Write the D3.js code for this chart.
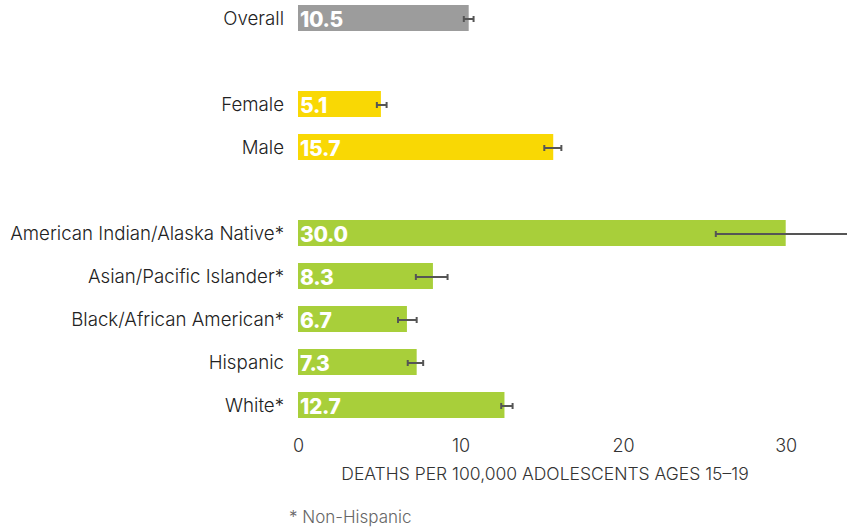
<!DOCTYPE html>
<html><head><meta charset="utf-8">
<script src="https://cdn.jsdelivr.net/npm/d3@7"></script>
<style>
body{margin:0;background:#fff;}
svg{display:block;font-family:Inter,"Noto Sans",sans-serif;}
</style></head>
<body><svg id="c" width="847" height="529"></svg>
<script>
// rows (empty strings are spacer rows between groups)
const categories = ["Overall","", "Female","Male","", "American Indian/Alaska Native*","Asian/Pacific Islander*","Black/African American*","Hispanic","White*"];
const groups = ["overall","", "gender","gender","", "race","race","race","race","race"];
const values = [10.5, null, 5.1, 15.7, null, 30.0, 8.3, 6.7, 7.3, 12.7];
const lower  = [10.2, null, 4.85, 15.15, null, 25.7, 7.25, 6.15, 6.75, 12.5];
const upper  = [10.8, null, 5.45, 16.2, null, 34.8, 9.2, 7.3, 7.7, 13.2];
const xTicks = [0, 10, 20, 30];
const xTitle = "DEATHS PER 100,000 ADOLESCENTS AGES 15–19";
const footnote = "* Non-Hispanic";
const colors = {overall:"#9c9c9c", gender:"#f9d804", race:"#a8cf3a"};

const svg = d3.select("#c");
const x = d3.scaleLinear().domain([0,30]).range([298, 785.7]);
const step = 43, pIn = 17/43, pOut = 0.2;
const yTop = 5 - pOut*step;
const y = d3.scaleBand().domain(d3.range(categories.length))
  .range([yTop, yTop + step*(categories.length - pIn + 2*pOut)])
  .paddingInner(pIn).paddingOuter(pOut);

const rows = categories.map((c,i)=>({c,i,g:groups[i],v:values[i],lo:lower[i],hi:upper[i]})).filter(d=>d.c);

// bars
svg.append("g").selectAll("rect").data(rows).join("rect")
  .attr("x", x(0)).attr("y", d=>y(d.i))
  .attr("width", d=>x(d.v)-x(0)).attr("height", y.bandwidth())
  .attr("fill", d=>colors[d.g]);

// value labels
svg.append("g").selectAll("text").data(rows).join("text")
  .attr("x", x(0)+2).attr("y", d=>y(d.i)+y.bandwidth()/2+9)
  .attr("fill","#fff").attr("font-size",21).attr("font-weight",800)
  .attr("letter-spacing","-0.3")
  .text(d=>d.v.toFixed(1));

// category labels
svg.append("g").selectAll("text").data(rows).join("text")
  .attr("x", 284).attr("y", d=>y(d.i)+y.bandwidth()/2+7)
  .attr("text-anchor","end").attr("fill","#222").attr("font-size",18.7).attr("font-weight",350)
  .text(d=>d.c);

// error bars
const eb = svg.append("g").attr("stroke","#555").attr("stroke-width",2);
rows.forEach(d=>{
  const cy = y(d.i)+y.bandwidth()/2 + 1;
  eb.append("line").attr("x1",x(d.lo)).attr("x2",x(d.hi)).attr("y1",cy).attr("y2",cy);
  [d.lo,d.hi].forEach(v=>eb.append("line").attr("x1",x(v)).attr("x2",x(v)).attr("y1",cy-3).attr("y2",cy+3));
});

// axis
const ax = svg.append("g").attr("transform","translate(0,437)")
  .call(d3.axisBottom(x).tickValues(xTicks).tickSize(0).tickPadding(0));
ax.select(".domain").remove();
ax.selectAll("text").attr("font-family","Inter,'Noto Sans',sans-serif").attr("font-size",18).attr("font-weight",300).attr("fill","#333").attr("dy","0.85em");

svg.append("text").attr("x",545).attr("y",480).attr("text-anchor","middle")
  .attr("font-size",17.5).attr("font-weight",300).attr("fill","#333").text(xTitle);
svg.append("text").attr("x",289).attr("y",523)
  .attr("font-size",17).attr("font-weight",300).attr("fill","#666").text(footnote);
</script></body></html>
